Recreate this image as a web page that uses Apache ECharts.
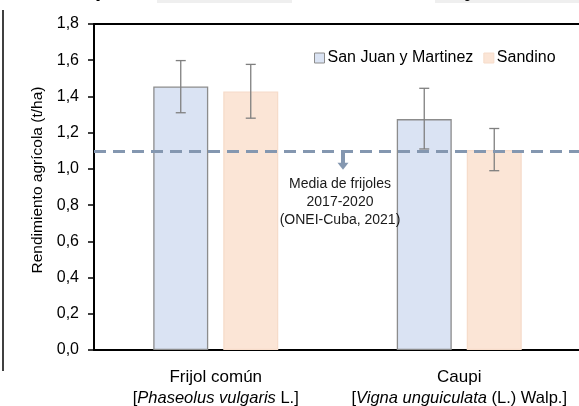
<!DOCTYPE html>
<html><head><meta charset="utf-8">
<script src="https://cdn.jsdelivr.net/npm/echarts@6/dist/echarts.min.js"></script>
<style>html,body{margin:0;padding:0;background:#fff}#c{width:579px;height:406px}</style>
</head><body><div id="c"></div>
<script>
const categories = ['Frijol común', 'Caupi'];
const categorySpecies = ['Phaseolus vulgaris', 'Vigna unguiculata'];
const categoryAuthors = [' L.]', ' (L.) Walp.]'];
const seriesNames = ['San Juan y Martinez', 'Sandino'];
const sanJuanValues = [1.455, 1.275];
const sanJuanErrLow = [1.31, 1.11];
const sanJuanErrHigh = [1.598, 1.445];
const sandinoValues = [1.427, 1.104];
const sandinoErrLow = [1.28, 0.99];
const sandinoErrHigh = [1.577, 1.223];
const referenceMean = 1.1;
const annotationLines = ['Media de frijoles', '2017-2020', '(ONEI-Cuba, 2021)'];
const yTicks = [0, 0.2, 0.4, 0.6, 0.8, 1.0, 1.2, 1.4, 1.6, 1.8];

const FONT = '"Liberation Sans", Arial, sans-serif';
const BAR_W = 55, BAR_GAP = 15;
const blue = '#dae3f3', orange = '#fbe5d6';

const chart = echarts.init(document.getElementById('c'), null, {renderer: 'canvas'});

function errSeries(low, high, offset) {
  return {
    type: 'custom',
    silent: true,
    z: 5,
    data: categories.map((c, i) => [i, low[i], high[i]]),
    renderItem: function (params, api) {
      const x = api.coord([api.value(0), 0])[0] + offset;
      const yl = api.coord([api.value(0), api.value(1)])[1];
      const yh = api.coord([api.value(0), api.value(2)])[1];
      const s = {stroke: '#7f7f7f', lineWidth: 1.3};
      return {type: 'group', children: [
        {type: 'line', shape: {x1: x, y1: yl, x2: x, y2: yh}, style: s},
        {type: 'line', shape: {x1: x - 5, y1: yl, x2: x + 5, y2: yl}, style: s},
        {type: 'line', shape: {x1: x - 5, y1: yh, x2: x + 5, y2: yh}, style: s}
      ]};
    }
  };
}

const half = (BAR_W + BAR_GAP) / 2;

chart.setOption({
  animation: false,
  textStyle: {fontFamily: FONT},
  grid: {left: 94, right: -2, top: 24, bottom: 56, containLabel: false, outerBoundsMode: 'none'},
  legend: {
    left: 309, top: 45, itemWidth: 10, itemHeight: 10, itemGap: 10, icon: 'rect',
    textStyle: {fontSize: 16, color: '#000', fontFamily: FONT, padding: [0, 0, 0, -2]},
    data: [
      {name: seriesNames[0], itemStyle: {color: blue, borderColor: '#8c8c8c', borderWidth: 1}},
      {name: seriesNames[1], itemStyle: {color: orange, borderColor: '#f6dcca', borderWidth: 1}}
    ]
  },
  xAxis: [{
    type: 'category',
    data: categories,
    axisLine: {lineStyle: {color: '#000', width: 2}},
    axisTick: {alignWithLabel: true, length: 5, lineStyle: {color: '#000', width: 1.5}},
    axisLabel: {
      interval: 0, margin: 17, color: '#000', lineHeight: 21, hideOverlap: false,
      formatter: function (v, i) {
        return '{a|' + v + '}\n{b|[}{i|' + categorySpecies[i] + '}{b|' + categoryAuthors[i] + '}';
      },
      rich: {
        a: {fontSize: 17, fontFamily: FONT, color: '#000', lineHeight: 21},
        b: {fontSize: 16.5, fontFamily: FONT, color: '#000', lineHeight: 21},
        i: {fontSize: 16.5, fontFamily: FONT, fontStyle: 'italic', color: '#000', lineHeight: 21}
      }
    }
  }, {
    type: 'category', position: 'top', data: categories,
    axisLine: {show: true, lineStyle: {color: '#000', width: 2}},
    axisTick: {show: false}, axisLabel: {show: false}
  }],
  yAxis: {
    type: 'value', min: 0, max: 1.8, interval: 0.2,
    name: 'Rendimiento agrícola (t/ha)', nameLocation: 'middle', nameGap: 48, nameRotate: 90,
    nameTextStyle: {fontSize: 15.5, color: '#000', fontFamily: FONT, padding: [0, 0, 0, 14]},
    axisLine: {show: true, lineStyle: {color: '#000', width: 2}},
    axisTick: {show: true, inside: false, length: 6, lineStyle: {color: '#000', width: 1.5}},
    splitLine: {show: false},
    axisLabel: {
      margin: 15, fontSize: 16, color: '#000', fontFamily: FONT,
      formatter: v => v.toFixed(1).replace('.', ',')
    }
  },
  series: [
    {
      name: seriesNames[0], type: 'bar', barWidth: BAR_W, barGap: (BAR_GAP / BAR_W * 100) + '%',
      data: sanJuanValues,
      itemStyle: {color: blue, borderColor: '#8c8c8c', borderWidth: 1.3},
      markLine: {
        silent: true, symbol: 'none', z: 10,
        lineStyle: {color: '#8497b0', width: 3, type: [12, 7]},
        label: {show: false},
        data: [{yAxis: referenceMean}]
      }
    },
    {
      name: seriesNames[1], type: 'bar', barWidth: BAR_W,
      data: sandinoValues,
      itemStyle: {color: orange, borderColor: '#f6dcca', borderWidth: 1.3}
    },
    errSeries(sanJuanErrLow, sanJuanErrHigh, -half),
    errSeries(sandinoErrLow, sandinoErrHigh, half)
  ]
});

const ay = chart.convertToPixel({yAxisIndex: 0}, referenceMean);
const ax = 343;
chart.setOption({
  graphic: [
    {type: 'rect', z: 100, shape: {x: ax - 2, y: ay + 2, width: 4, height: 11}, style: {fill: '#8497b0'}},
    {type: 'polygon', z: 100, shape: {points: [[ax - 5.5, ay + 12], [ax + 5.5, ay + 12], [ax, ay + 19]]}, style: {fill: '#8497b0'}},
    {type: 'text', z: 100, x: ax - 3, y: ay + 24, style: {
      text: annotationLines.join('\n'), fill: '#1a1a1a', font: '14px ' + FONT,
      align: 'center', verticalAlign: 'top', lineHeight: 18
    }},
    {type: 'line', z: 100, shape: {x1: 3, y1: 10, x2: 3, y2: 371}, style: {stroke: '#000', lineWidth: 1.5}},
    {type: 'rect', z: 100, shape: {x: 157, y: 0, width: 135, height: 3}, style: {fill: '#efefef'}},
    {type: 'rect', z: 100, shape: {x: 435, y: 0, width: 144, height: 3}, style: {fill: '#efefef'}},
    {type: 'text', z: 100, x: 95, y: -21, style: {text: 'p', font: 'bold 22px ' + FONT, fill: '#000'}},
    {type: 'text', z: 100, x: 452, y: -21, style: {text: ', y', font: 'bold 22px ' + FONT, fill: '#000'}}
  ]
});
</script></body></html>
